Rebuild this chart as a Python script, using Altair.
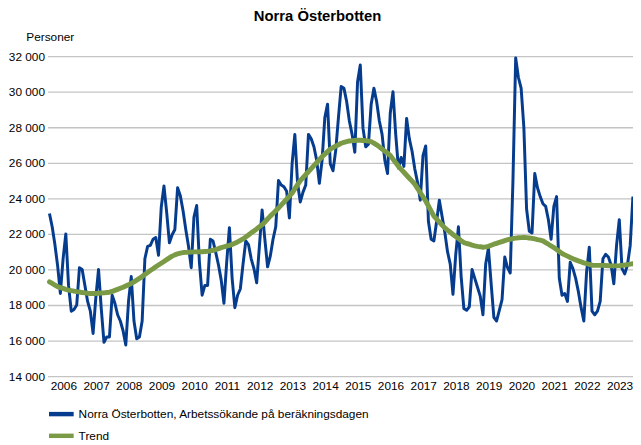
import altair as alt
import pandas as pd

title_text = "Norra Österbotten"
y_title = "Personer"
series_names = ["Norra Österbotten, Arbetssökande på beräkningsdagen", "Trend"]
series_colors = ["#063c8e", "#7a9a46"]
years = list(range(2006, 2024))
y_ticks = [14000, 16000, 18000, 20000, 22000, 24000, 26000, 28000, 30000, 32000]

# monthly values, Jan 2006 .. Nov 2023
job_seekers = [
    23150, 22400, 21400, 20200, 18650, 20600, 22000, 19100, 17650, 17750, 18000, 20100,
    20000, 19100, 18200, 17650, 16400, 18400, 20000, 17800, 15900, 16200, 16200, 18550,
    18100, 17450, 17100, 16550, 15750, 18200, 19600, 17100, 16100, 16200, 17100, 20600,
    21300, 21350, 21700, 21800, 20800, 23500, 24700, 23200, 21500, 21950, 22250, 24600,
    24150, 23300, 22250, 21300, 20100, 22950, 23600, 20400, 18550, 19100, 19100, 21700,
    21600, 20950, 20250, 19400, 18100, 20400, 22350, 19500, 17850, 18550, 18900, 20300,
    21600, 21400, 20600, 20050, 19250, 21300, 23350, 21700, 20150, 20750, 21700, 22400,
    25000, 24750, 24650, 24400, 22900, 25950, 27600, 24850, 23800, 24350, 24750, 27600,
    27350, 26900, 26150, 24850, 26150, 28550, 29300, 25950, 25550, 26700, 28550, 30300,
    30200, 29450, 28350, 27600, 26600, 30550, 31500, 27950, 26900, 27050, 29300, 30200,
    29450, 28350, 27600, 26150, 25400, 28800, 30000, 27600, 25700, 26300, 25800, 28500,
    27350, 26650, 25650, 24900, 23900, 26400, 26950, 22700, 21700, 21600, 22700, 23900,
    23000, 22100, 21000, 20300, 18600, 20800, 22400, 19600, 17800, 17700, 17900, 20000,
    19500, 19000, 18500, 17450, 20300, 21200, 19200, 17300, 17100, 17700, 18300, 20700,
    20100, 19800, 25000, 31900, 30800, 30200, 28000, 23400, 22150, 22050, 25400, 24600,
    24100, 23700, 23550, 22800, 21700, 23550, 24100, 19500, 18550, 18650, 18200, 20400,
    20050, 19500, 18750, 17850, 17100, 19850, 21250, 17650, 17450, 17650, 18200, 20600,
    20850, 20700, 20250, 19200, 21350, 22800, 20050, 19750, 20250, 21350, 24100,
]

trend = [
    19300, 19210, 19120, 19030, 18980, 18930, 18880, 18840, 18810, 18780, 18750, 18730,
    18700, 18680, 18660, 18650, 18650, 18650, 18660, 18670, 18680, 18700, 18720, 18760,
    18820, 18880, 18940, 19000, 19070, 19140, 19210, 19300, 19400, 19500, 19600, 19720,
    19830, 19940, 20040, 20150, 20250, 20350, 20450, 20550, 20650, 20750, 20820, 20880,
    20920, 20950, 20960, 20970, 20980, 20990, 20990, 21000, 21000, 21010, 21020, 21040,
    21080, 21120, 21170, 21230, 21270, 21320, 21360, 21410, 21480, 21550, 21630, 21720,
    21830, 21940, 22060, 22170, 22280, 22400, 22510, 22670, 22840, 23000, 23150, 23300,
    23460, 23620, 23790, 23960, 24130, 24300, 24530, 24770, 25000, 25170, 25340, 25500,
    25670, 25840, 26010, 26180, 26350, 26490, 26630, 26770, 26860, 26940, 27020, 27100,
    27150, 27190, 27230, 27240, 27260, 27270, 27270, 27260, 27250, 27220, 27190, 27110,
    27010, 26900, 26780, 26660, 26540, 26420, 26210, 26000, 25800, 25630, 25470, 25300,
    25130, 24970, 24800, 24560, 24330, 24090, 23850, 23570, 23280, 23000, 22830, 22670,
    22500, 22340, 22210, 22090, 21970, 21850, 21740, 21620, 21510, 21460, 21420, 21370,
    21330, 21300, 21280, 21250, 21270, 21300, 21360, 21420, 21470, 21520, 21570, 21620,
    21670, 21700, 21740, 21760, 21780, 21790, 21800, 21790, 21770, 21750, 21720, 21680,
    21650, 21610, 21510, 21420, 21320, 21230, 21120, 21010, 20900, 20820, 20750, 20670,
    20600, 20540, 20480, 20430, 20370, 20330, 20290, 20240, 20230, 20230, 20230, 20230,
    20220, 20210, 20200, 20200, 20200, 20210, 20230, 20250, 20270, 20300, 20320,
]

n = len(job_seekers)
t = [years[0] + i / 12 for i in range(n)]
df_a = pd.DataFrame({"t": t, "value": job_seekers, "series": series_names[0]})
df_b = pd.DataFrame({"t": t, "value": trend, "series": series_names[1]})

FONT = "Liberation Sans"

x_enc = alt.X(
    "t:Q",
    scale=alt.Scale(domain=[2005.94, 2023.836], nice=False, zero=False),
    axis=alt.Axis(
        values=[y + 0.5 for y in years],
        labelExpr="floor(datum.value)",
        grid=False, ticks=False, domain=False,
        labelPadding=5, labelFontSize=12, labelColor="#000000",
        labelOffset=-2.5,
        labelFlush=False, labelOverlap=False, title=None,
    ),
)
y_enc = alt.Y(
    "value:Q",
    scale=alt.Scale(domain=[14000, 32000], nice=False, zero=False),
    axis=alt.Axis(
        values=y_ticks,
        labelExpr="replace(format(datum.value, ','), ',', ' ')",
        grid=True, gridColor="#c4c4c4", gridWidth=1.3,
        ticks=False, domain=False,
        labelPadding=3, labelFontSize=12, labelColor="#000000",
        title=y_title, titleAngle=0, titleAlign="left", titleBaseline="alphabetic",
        titleX=-22, titleY=-16, titleFontSize=12, titleFontWeight="normal",
        titleColor="#000000",
    ),
)
color_enc = alt.Color(
    "series:N",
    scale=alt.Scale(domain=series_names, range=series_colors),
    legend=alt.Legend(
        title=None, orient="none", legendX=1.5, legendY=350, direction="vertical",
        symbolType="M-1.25,0L1.25,0", symbolSize=400, symbolStrokeWidth=4.5,
        labelFontSize=12, labelColor="#000000", labelOffset=5, rowPadding=0,
        labelLimit=500, padding=0,
    ),
)

blue = alt.Chart(df_a).mark_line(strokeWidth=3, strokeJoin="round").encode(
    x=x_enc, y=y_enc, color=color_enc
)
green = alt.Chart(df_b).mark_line(strokeWidth=5, strokeJoin="round", strokeCap="round").encode(
    x=x_enc, y=y_enc, color=color_enc
)

chart = (
    alt.layer(blue, green)
    .properties(
        width=593, height=324,
        autosize=alt.AutoSizeParams(type="none"),
        padding={"left": 40, "top": 46, "right": 0, "bottom": 67},
        background="#ffffff",
        title=alt.TitleParams(
            text=title_text, fontSize=15, fontWeight="bold", font=FONT,
            anchor="middle", dx=-23, offset=7, color="#000000",
        ),
    )
    .configure(font=FONT)
    .configure_view(strokeWidth=0)
)

chart.save("out.html", embed_options={"renderer": "svg", "actions": False})
